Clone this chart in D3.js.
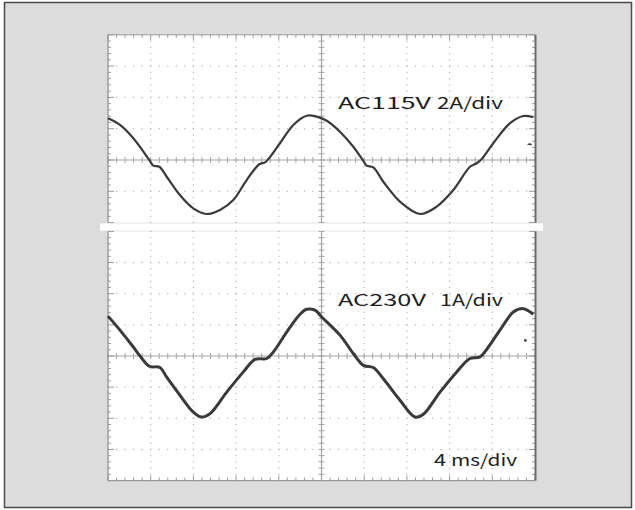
<!DOCTYPE html>
<html>
<head>
<meta charset="utf-8">
<script src="https://cdn.jsdelivr.net/npm/d3@7"></script>
<style>
  body { margin: 0; background: #fff; }
  text { font-family: "Noto Sans CJK JP", "Noto Sans", sans-serif; fill: #1e1e1e; }
</style>
</head>
<body>
<script>
// waveform samples (time in ms, current in A)
var time115 = [0, 1.12, 2.37, 3.87, 4.24, 4.81, 5.5, 6.74, 7.99, 9.25, 10.49, 11.74, 12.99, 14.17, 14.71, 15.02,
  16.11, 17.36, 18.61, 19.55, 20.49, 21.73, 22.98, 23.92, 24.23, 24.85, 25.79, 27.35, 29.23, 30.79, 32.35,
  33.91, 34.54, 35.01, 36.09, 37.66, 38.91, 39.84];
var current115 = [2.66, 2.24, 1.39, 0, -0.36, -0.43, -1.07, -2.24, -3.09, -3.45, -3.19, -2.56, -1.28, -0.27, -0.15, 0.06,
  1.07, 2.24, 2.83, 2.77, 2.51, 1.81, 0.85, -0.06, -0.36, -0.47, -1.39, -2.66, -3.45, -2.98, -1.92,
  -0.43, -0.21, 0.06, 1.07, 2.35, 2.81, 2.73];

var time230 = [0, 1.12, 2.37, 3.0, 3.87, 4.87, 5.5, 6.74, 7.99, 8.78, 9.56, 11.12, 12.68, 13.77, 14.87, 15.49,
  16.74, 17.99, 18.61, 19.39, 20.02, 21.73, 22.98, 23.92, 24.85, 25.79, 27.35, 28.76, 29.54, 31.1, 32.67,
  33.91, 34.85, 35.47, 36.72, 37.97, 38.91, 39.84];
var current230 = [1.28, 0.83, 0.29, 0, -0.33, -0.37, -0.68, -1.26, -1.8, -1.96, -1.85, -1.16, -0.51, -0.11, -0.08, 0.13,
  0.77, 1.34, 1.5, 1.47, 1.25, 0.67, 0.08, -0.3, -0.37, -0.73, -1.42, -1.96, -1.87, -1.16, -0.51,
  -0.08, -0.03, 0.21, 0.83, 1.41, 1.52, 1.34];

var labels115 = ["AC115V", "2A/div"];
var labels230 = ["AC230V", "1A/div"];
var timeLabel = ["4", "ms/div"];
var zeroMark115 = 1.0;   // A, marker on right edge
var zeroMark230 = 0.5;

var W = 635, H = 510;
var svg = d3.select("body").append("svg").attr("width", W).attr("height", H);

// outer frame
svg.append("rect").attr("x", 4.5).attr("y", 2.5).attr("width", 627).attr("height", 505)
  .attr("fill", "#dcdcdc").attr("stroke", "#4a4a4a").attr("stroke-width", 1.5);

var x = d3.scaleLinear().domain([0, 40]).range([108, 535]);
var yTop = d3.scaleLinear().domain([-4, 8]).range([222.6, 34.8]);
var yBot = d3.scaleLinear().domain([-4, 4]).range([480.6, 231.4]);

var xMinor = d3.range(0, 40.001, 0.8);
var xMajor = d3.range(4, 37, 4);

function drawScreen(y, perDiv, opts) {
  var g = svg.append("g");
  var d0 = y.domain()[0], d1 = y.domain()[1];
  var top = y(d1), bot = y(d0);
  g.append("rect").attr("x", x(0)).attr("y", top).attr("width", x(40) - x(0)).attr("height", bot - top)
    .attr("fill", "#fff");

  var yMinor = d3.range(d0, d1 + 0.001, perDiv / 5);
  var yMajor = d3.range(d0 + perDiv, d1 - 0.001, perDiv).filter(v => Math.abs(v) > 1e-6);

  // dotted grid
  xMajor.filter(v => v !== 20).forEach(function (t) {
    g.selectAll(null).data(yMinor).enter().append("rect")
      .attr("x", x(t) - 0.6).attr("y", d => y(d) - 0.6).attr("width", 1.2).attr("height", 1.2)
      .attr("fill", "#b4b4b4");
  });
  yMajor.forEach(function (v) {
    g.selectAll(null).data(xMinor).enter().append("rect")
      .attr("x", d => x(d) - 0.6).attr("y", y(v) - 0.6).attr("width", 1.2).attr("height", 1.2)
      .attr("fill", "#b4b4b4");
  });

  // center axes with cross ticks
  g.append("line").attr("x1", x(0)).attr("x2", x(40)).attr("y1", y(0)).attr("y2", y(0))
    .attr("stroke", "#a4a4a4").attr("stroke-width", 1.2);
  g.selectAll(null).data(xMinor).enter().append("line")
    .attr("x1", d => x(d)).attr("x2", d => x(d)).attr("y1", y(0) - 3).attr("y2", y(0) + 3)
    .attr("stroke", "#a4a4a4");
  g.append("line").attr("x1", x(20)).attr("x2", x(20)).attr("y1", top).attr("y2", bot)
    .attr("stroke", "#a4a4a4").attr("stroke-width", 1.2);
  g.selectAll(null).data(yMinor).enter().append("line")
    .attr("x1", x(20) - 3).attr("x2", x(20) + 3).attr("y1", d => y(d)).attr("y2", d => y(d))
    .attr("stroke", "#a4a4a4");

  // edge ticks
  var isMajor = v => Math.abs(v / perDiv - Math.round(v / perDiv)) < 1e-6;
  g.selectAll(null).data(yMinor).enter().append("line")
    .attr("x1", x(0)).attr("x2", d => x(0) + (isMajor(d) ? 6 : 3)).attr("y1", d => y(d)).attr("y2", d => y(d))
    .attr("stroke", "#9a9a9a");
  g.selectAll(null).data(yMinor).enter().append("line")
    .attr("x1", x(40)).attr("x2", d => x(40) - (isMajor(d) ? 6 : 3)).attr("y1", d => y(d)).attr("y2", d => y(d))
    .attr("stroke", "#9a9a9a");
  if (opts.topEdge) {
    g.selectAll(null).data(xMinor).enter().append("line")
      .attr("x1", d => x(d)).attr("x2", d => x(d)).attr("y1", top).attr("y2", d => top + (d % 4 === 0 ? 5 : 3))
      .attr("stroke", "#9a9a9a");
    g.append("line").attr("x1", x(0)).attr("x2", x(40)).attr("y1", top).attr("y2", top)
      .attr("stroke", "#9a9a9a");
  }
  if (opts.bottomEdge) {
    g.selectAll(null).data(xMinor).enter().append("line")
      .attr("x1", d => x(d)).attr("x2", d => x(d)).attr("y1", bot).attr("y2", d => bot - (d % 4 === 0 ? 5 : 3))
      .attr("stroke", "#9a9a9a");
    g.append("line").attr("x1", x(0)).attr("x2", x(40)).attr("y1", bot).attr("y2", bot)
      .attr("stroke", "#9a9a9a").attr("stroke-width", 1.2);
  }
  // side borders
  g.append("line").attr("x1", x(0)).attr("x2", x(0)).attr("y1", top).attr("y2", bot)
    .attr("stroke", "#8c8c8c").attr("stroke-width", 1.2);
  g.append("line").attr("x1", x(40) + 0.5).attr("x2", x(40) + 0.5).attr("y1", top).attr("y2", bot)
    .attr("stroke", "#6a6a6a").attr("stroke-width", 2);
  return g;
}

var gTop = drawScreen(yTop, 2, { topEdge: true });
var gBot = drawScreen(yBot, 1, { bottomEdge: true });

// white seam between the two captures
svg.append("rect").attr("x", 100).attr("y", 223.4).attr("width", 443).attr("height", 7.2).attr("fill", "#fff");

// waveforms
var line115 = d3.line().x((d, i) => x(time115[i])).y(d => yTop(d)).curve(d3.curveCatmullRom);
gTop.append("path").datum(current115).attr("d", line115)
  .attr("fill", "none").attr("stroke", "#3a3a3a").attr("stroke-width", 2.2);

var line230 = d3.line().x((d, i) => x(time230[i])).y(d => yBot(d)).curve(d3.curveCatmullRom);
gBot.append("path").datum(current230).attr("d", line230)
  .attr("fill", "none").attr("stroke", "#3a3a3a").attr("stroke-width", 3);

// zero-level markers
gTop.append("path")
  .attr("d", d3.line()([[x(39.3), yTop(zeroMark115)], [x(40) - 3, yTop(zeroMark115)]]))
  .attr("stroke", "#444").attr("stroke-width", 1);
gTop.append("path")
  .attr("d", "M" + x(39.3) + "," + yTop(zeroMark115) + "l3,-1.5v3z").attr("fill", "#444");
gBot.append("circle").attr("cx", x(39.1)).attr("cy", yBot(zeroMark230)).attr("r", 1.4).attr("fill", "#444");

// labels
function label(txt, x0, x1, yb) {
  svg.append("text").attr("x", x0).attr("y", yb).attr("font-size", 16)
    .attr("textLength", x1 - x0).attr("lengthAdjust", "spacingAndGlyphs").text(txt);
}
label(labels115[0], 338, 431, 109);
label(labels115[1], 437, 503, 109);
label(labels230[0], 338, 426, 305.5);
label(labels230[1], 440, 503, 305.5);
label(timeLabel[0], 434, 446, 466);
label(timeLabel[1], 451, 517, 466);
</script>
</body>
</html>
